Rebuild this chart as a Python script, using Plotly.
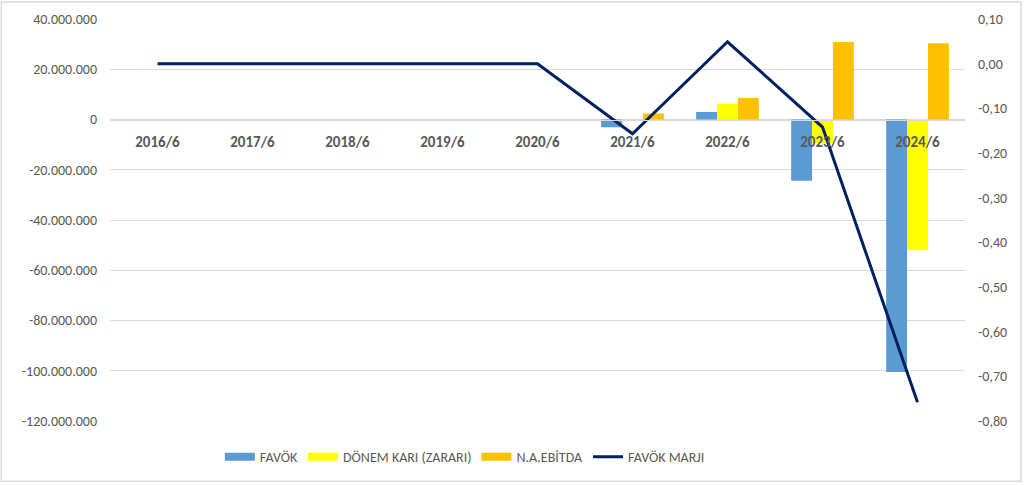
import plotly.graph_objects as go

categories = ["2016/6", "2017/6", "2018/6", "2019/6", "2020/6", "2021/6", "2022/6", "2023/6", "2024/6"]
favok = [0, 0, 0, 0, 0, -3.1e6, 3.0e6, -24.4e6, -100.5e6]
donem_kari = [0, 0, 0, 0, 0, 0, 6.3e6, -9.4e6, -52.0e6]
na_ebitda = [0, 0, 0, 0, 0, 2.4e6, 8.6e6, 30.8e6, 30.3e6]
favok_marji = [0.0, 0.0, 0.0, 0.0, 0.0, -0.157, 0.049, -0.142, -0.758]

left_ticks = [40e6, 20e6, 0, -20e6, -40e6, -60e6, -80e6, -100e6, -120e6]
left_labels = ["40.000.000", "20.000.000", "0", "-20.000.000", "-40.000.000", "-60.000.000",
               "-80.000.000", "-100.000.000", "-120.000.000"]
right_ticks = [0.1, 0.0, -0.1, -0.2, -0.3, -0.4, -0.5, -0.6, -0.7, -0.8]
right_labels = ["0,10", "0,00", "-0,10", "-0,20", "-0,30", "-0,40", "-0,50", "-0,60", "-0,70", "-0,80"]

names = ["FAVÖK", "DÖNEM KARI (ZARARI)", "N.A.EBİTDA", "FAVÖK MARJI"]
colors = ["#5B9BD5", "#FFFF00", "#FFC000", "#002060"]

font_family = "Calibri, Carlito, Lato, 'Open Sans', sans-serif"
gray = "#595959"

fig = go.Figure()
for vals, nm, col in zip([favok, donem_kari, na_ebitda], names[:3], colors[:3]):
    fig.add_trace(go.Bar(x=categories, y=vals, name=nm, marker_color=col, marker_line_width=0,
                         yaxis="y", showlegend=False, legendgroup=nm))
fig.add_trace(go.Scatter(x=categories, y=favok_marji, name=names[3], mode="lines",
                         line=dict(color=colors[3], width=3), yaxis="y2", showlegend=False))

# legend entries (wide swatches like the original)
for nm, col, w in zip(names, colors, [8, 8, 8, 3]):
    fig.add_trace(go.Scatter(x=[None], y=[None], name=nm, mode="lines",
                             line=dict(color=col, width=w), yaxis="y", showlegend=True))

fig.update_layout(
    width=1024, height=485,
    margin=dict(l=110, r=59, t=19, b=59),
    paper_bgcolor="white", plot_bgcolor="white",
    font=dict(family=font_family, size=14, color=gray),
    barmode="group", bargap=0.34, bargroupgap=0,
    showlegend=True,
    legend=dict(orientation="h", x=0.415, xanchor="center", y=-0.09, yanchor="middle",
                font=dict(size=14, color=gray), traceorder="normal", itemwidth=30,
                entrywidth=0),
    xaxis=dict(anchor="free", position=0.75, showline=True, linecolor="#D9D9D9", linewidth=1,
               ticks="", showgrid=False, tickfont=dict(size=15, color=gray, weight="bold"),
               ticklabelstandoff=8, fixedrange=True, automargin=False),
    yaxis=dict(range=[-120e6, 40e6], tickvals=left_ticks, ticktext=left_labels,
               showgrid=True, gridcolor="#D9D9D9", gridwidth=1, zeroline=False,
               ticks="", tickfont=dict(size=14, color=gray), domain=[0, 1],
               ticklabelstandoff=12, automargin=False),
    yaxis2=dict(range=[-0.8, 0.1], tickvals=right_ticks, ticktext=right_labels,
                overlaying="y", side="right", showgrid=False, zeroline=False,
                ticks="", tickfont=dict(size=14, color=gray), ticklabelstandoff=12,
                automargin=False),
    shapes=[dict(type="rect", xref="paper", yref="paper", x0=-0.127, x1=1.0655, y0=-0.15, y1=1.042,
                 line=dict(color="#D9D9D9", width=1.5), fillcolor="rgba(0,0,0,0)", layer="below")],
)

fig.write_html("out.html", config={"displayModeBar": False},
               post_script="document.body.style.margin='0';")
